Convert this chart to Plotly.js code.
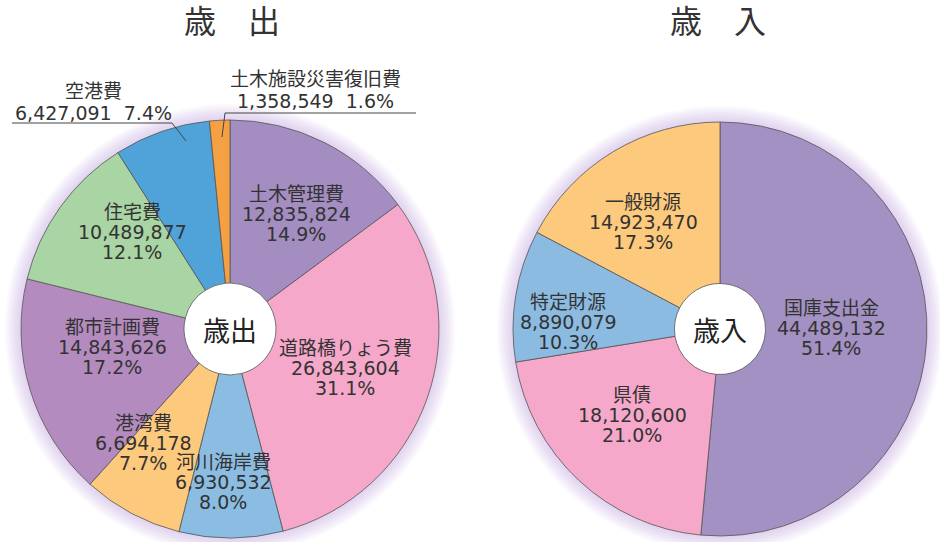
<!DOCTYPE html>
<html>
<head>
<meta charset="utf-8">
<script src="https://cdn.plot.ly/plotly-3.0.1.min.js"></script>
<style>
  html, body { margin: 0; padding: 0; background: #fff; }
  #myDiv { width: 940px; height: 542px; }
</style>
</head>
<body>
<div id="myDiv"></div>
<script>
// 歳出 (expenditure)
let outLabels = ["土木管理費", "道路橋りょう費", "河川海岸費", "港湾費", "都市計画費", "住宅費", "空港費", "土木施設災害復旧費"];
let outValues = [12835824, 26843604, 6930532, 6694178, 14843626, 10489877, 6427091, 1358549];
let outPct = ["14.9%", "31.1%", "8.0%", "7.7%", "17.2%", "12.1%", "7.4%", "1.6%"];
let outColors = ["#a48dc1", "#f5a8ca", "#8bbde3", "#fdc97d", "#b38bbf", "#a9d4a3", "#4fa3d8", "#f5a043"];

// 歳入 (revenue)
let inLabels = ["国庫支出金", "県債", "特定財源", "一般財源"];
let inValues = [44489132, 18120600, 8890079, 14923470];
let inPct = ["51.4%", "21.0%", "10.3%", "17.3%"];
let inColors = ["#a291c2", "#f5a8ca", "#8bbbe1", "#fdc97d"];

const W = 940, H = 542;
const FONT = "DejaVu Sans, Noto Sans CJK JP, sans-serif";
const TXT = "#333";
const HOLE = 0.22;

// pixel -> paper helpers
function px(x) { return x / W; }
function py(y) { return 1 - y / H; }

// pie geometry (pixels): centre x, centre y, radius
let leftPie = { cx: 230, cy: 329, r: 209 };
let rightPie = { cx: 720, cy: 329, r: 207 };

// where the label blocks sit (centre of the middle line), in pixels
let outLabelPos = [[296, 214], [345, 368], [223, 482], [143, 443], [112, 347], [132, 232], null, null];
let inLabelPos = [[831, 328], [632, 415], [568, 322], [643, 222]];

// small slices with callouts above the pie
let callouts = [
  { idx: 6, x: 93, y: 91, line: [[12, 123], [172, 123], [186, 141]] },
  { idx: 7, x: 315, y: 79, line: [[416, 113], [225, 113], [222, 137]] }
];

function domain(p) {
  return {
    x: [px(p.cx - p.r), px(p.cx + p.r)],
    y: [py(p.cy + p.r), py(p.cy - p.r)]
  };
}

function pieTrace(labels, values, colors, p, centre) {
  return {
    type: "pie",
    labels: labels,
    values: values,
    sort: false,
    direction: "clockwise",
    rotation: 0,
    hole: HOLE,
    domain: domain(p),
    marker: { colors: colors, line: { color: "#555", width: 0.8 } },
    textinfo: "none",
    hoverinfo: "label+value+percent",
    showlegend: false,
    title: { text: centre, position: "middle center", font: { family: FONT, size: 27, color: "#222" } }
  };
}

let data = [
  pieTrace(outLabels, outValues, outColors, leftPie, "歳出"),
  pieTrace(inLabels, inValues, inColors, rightPie, "歳入")
];

let annotations = [];
function addText(text, x, y, size) {
  annotations.push({
    text: text, xref: "paper", yref: "paper", x: px(x), y: py(y),
    xanchor: "center", yanchor: "middle", showarrow: false,
    font: { family: FONT, size: size || 19, color: TXT }
  });
}

function addBlocks(labels, values, pct, pos) {
  labels.forEach((lab, i) => {
    if (!pos[i]) return;
    let x = pos[i][0], y = pos[i][1];
    addText(lab, x, y - 20);
    addText(values[i].toLocaleString("en-US"), x, y);
    addText(pct[i], x, y + 20);
  });
}
addBlocks(outLabels, outValues, outPct, outLabelPos);
addBlocks(inLabels, inValues, inPct, inLabelPos);

let shapes = [];

function circle(p, R, fill) {
  return {
    type: "circle", layer: "below", xref: "paper", yref: "paper",
    x0: px(p.cx - R), x1: px(p.cx + R), y0: py(p.cy + R), y1: py(p.cy - R),
    fillcolor: fill, line: { width: 0 }
  };
}

// soft halo behind each pie, white behind the hole
[leftPie, rightPie].forEach(p => {
  for (let k = 1; k <= 8; k++) {
    shapes.push(circle(p, p.r + k * 2, "rgba(190,150,215,0.06)"));
  }
  shapes.push(circle(p, p.r * HOLE + 2, "#fff"));
});

callouts.forEach(c => {
  addText(outLabels[c.idx], c.x, c.y);
  addText(outValues[c.idx].toLocaleString("en-US") + "  " + outPct[c.idx], c.x, c.y + 22);
  let path = c.line.map((pt, j) => (j ? "L" : "M") + px(pt[0]) + "," + py(pt[1])).join(" ");
  shapes.push({
    type: "path", xref: "paper", yref: "paper", path: path,
    line: { color: "#444", width: 1 }
  });
});

// titles
addText("歳　出", leftPie.cx + 2, 22, 32);
addText("歳　入", rightPie.cx - 2, 22, 32);

let layout = {
  width: W,
  height: H,
  margin: { l: 0, r: 0, t: 0, b: 0 },
  paper_bgcolor: "#fff",
  plot_bgcolor: "#fff",
  annotations: annotations,
  shapes: shapes
};

Plotly.newPlot("myDiv", data, layout, { displayModeBar: false });
</script>
</body>
</html>
